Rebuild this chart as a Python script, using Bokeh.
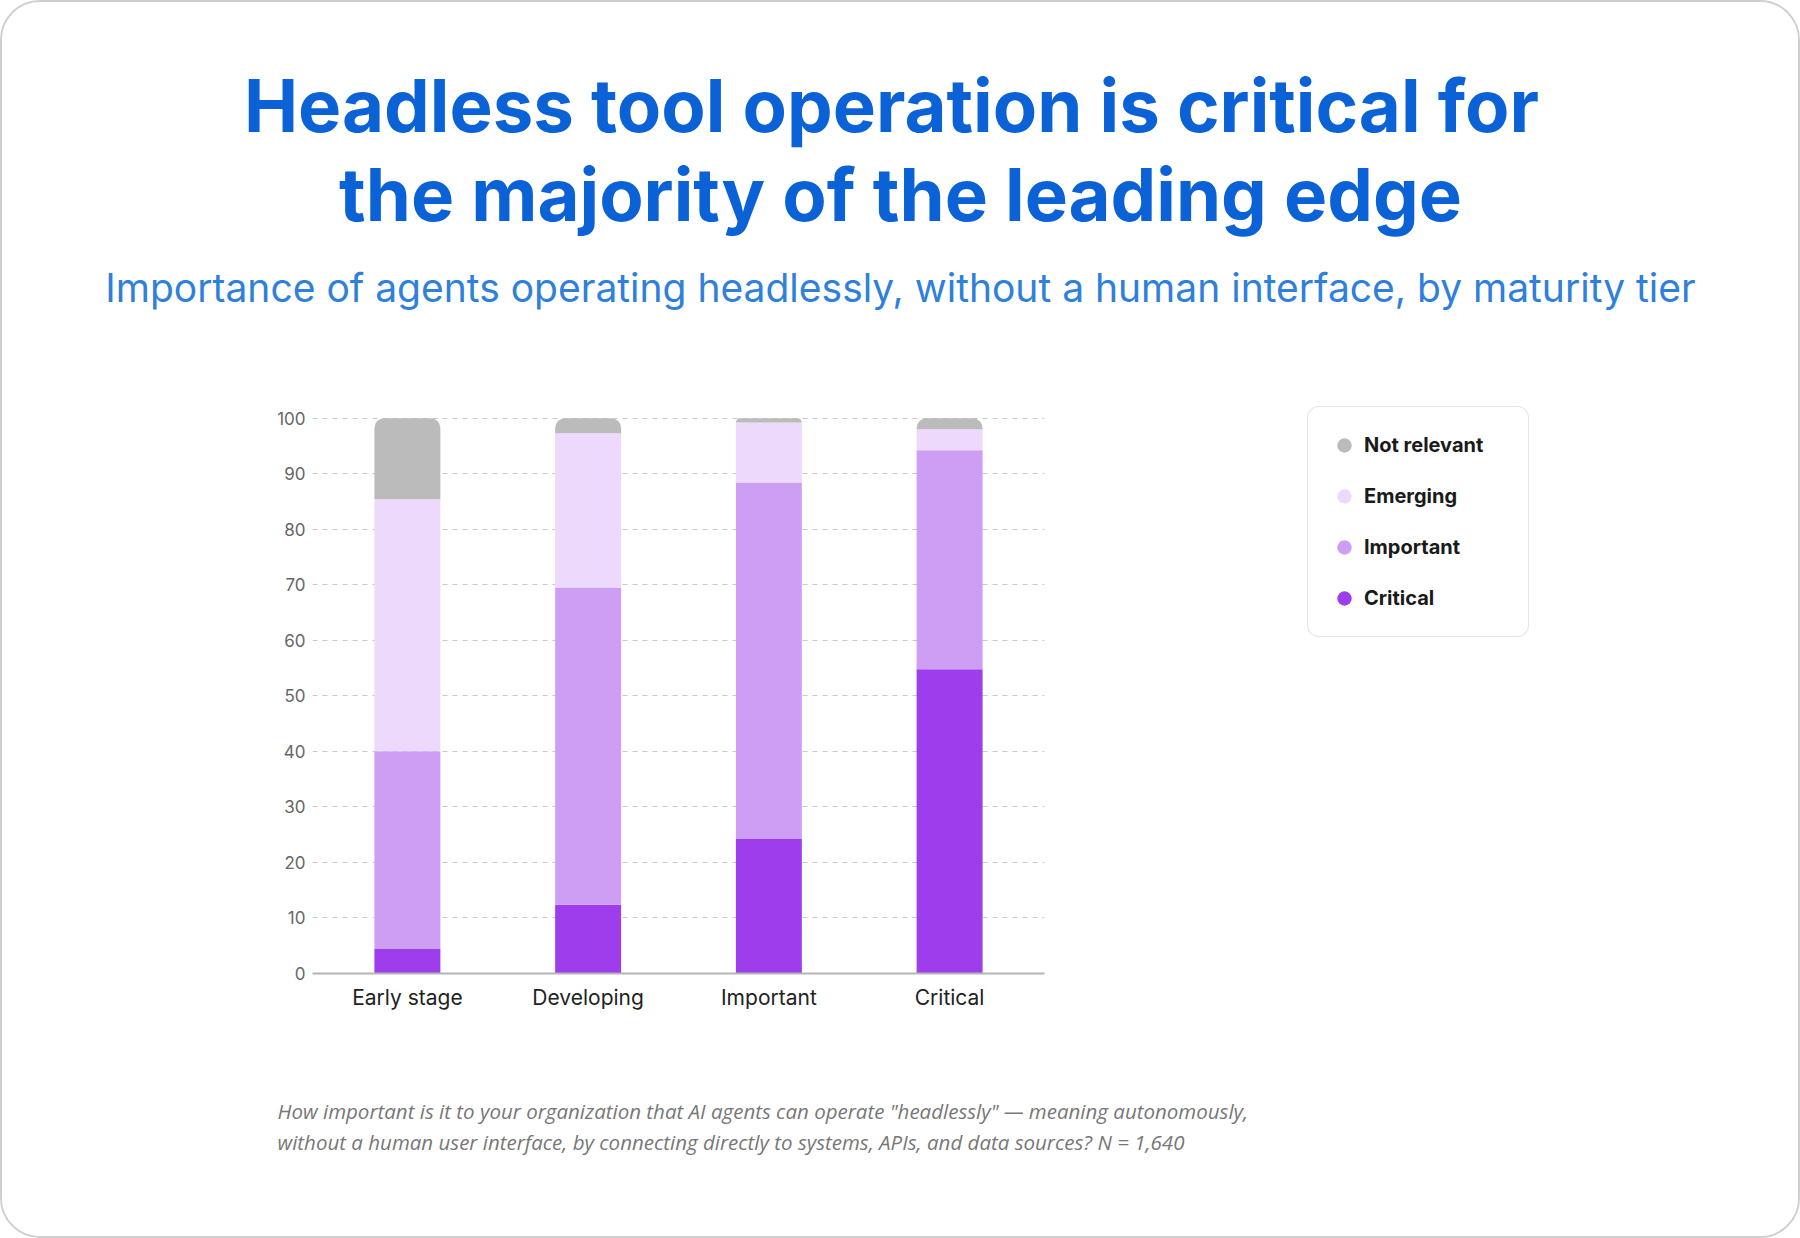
import numpy as np
from bokeh.plotting import figure
from bokeh.layouts import column, row
from bokeh.models import (FactorRange, Range1d, Label, Legend, LegendItem,
                          FixedTicker)
from bokeh.models.glyphs import VBar
from bokeh.embed import file_html
from bokeh.resources import INLINE

# ---- data -------------------------------------------------------------
tiers = ["Early stage", "Developing", "Important", "Critical"]
critical = [4.5, 12.4, 24.2, 54.8]
important = [35.5, 57.1, 64.2, 39.4]
emerging = [45.4, 27.8, 10.8, 3.8]
not_relevant = [14.6, 2.7, 0.8, 2.0]

series_names = ["Critical", "Important", "Emerging", "Not relevant"]
series_colors = ["#9d3deb", "#cd9ef3", "#ecd9fc", "#bbbbbb"]
y_ticks = list(range(0, 101, 10))

title_lines = ["Headless tool operation is critical for",
               "the majority of the leading edge"]
subtitle = ("Importance of agents operating headlessly, without a human "
            "interface, by maturity tier")
note_lines = [
    "How important is it to your organization that AI agents can operate "
    "\"headlessly\" \u2014 meaning autonomously,",
    "without a human user interface, by connecting directly to systems, "
    "APIs, and data sources? N = 1,640",
]

FONT = "Inter"
EDGE = 2                      # card border width
W = 1800 - 2 * EDGE
HEAD_H, MID_H = 338, 720
FOOT_H = 1238 - 2 * EDGE - HEAD_H - MID_H
CHART_W = 1098
FRAME_TOP, FRAME_BOTTOM = 66, 87


def blank(width, height, y_top_down=True, **kw):
    """A figure whose frame fills it, with pixel-like ranges."""
    f = figure(width=width, height=height, title=None,
               x_range=Range1d(0, width),
               y_range=Range1d(height, 0) if y_top_down else Range1d(0, height),
               x_axis_type=None, y_axis_type=None,
               output_backend="svg", toolbar_location=None, **kw)
    f.outline_line_color = None
    f.background_fill_color = "white"
    f.border_fill_color = "white"
    return f


# ---- header -----------------------------------------------------------
head = blank(W, HEAD_H, min_border=0)
for text, x, y in zip(title_lines, [889, 898], [103, 192]):
    head.add_layout(Label(x=x, y=y, text=text, text_font=FONT,
                          text_font_size="72.5px", text_font_style="bold",
                          text_color="#0a62d6", text_align="center",
                          text_baseline="alphabetic"))
head.add_layout(Label(x=898, y=285, text=subtitle, text_font=FONT,
                      text_font_size="39px", text_color="#2f7fdc",
                      text_align="center", text_baseline="alphabetic"))

# ---- chart ------------------------------------------------------------
p = figure(
    width=CHART_W, height=MID_H, title=None,
    x_range=FactorRange(*tiers, range_padding=0.025,
                        range_padding_units="absolute"),
    y_range=Range1d(0, 102.1),
    output_backend="svg", toolbar_location=None,
    min_border_left=310, min_border_right=56,
    min_border_top=FRAME_TOP, min_border_bottom=FRAME_BOTTOM,
)
p.background_fill_color = "white"
p.border_fill_color = "white"
p.outline_line_color = None

vals = np.array([critical, important, emerging, not_relevant], dtype=float)
tops = vals.cumsum(axis=0)
bottoms = tops - vals
has_radius = "border_radius" in VBar.properties()
for i, col in enumerate(series_colors):
    kw = {}
    if has_radius and i == len(series_colors) - 1:
        kw["border_radius"] = (10, 10, 0, 0)
    p.vbar(x=tiers, bottom=list(bottoms[i]), top=list(tops[i]), width=0.365,
           fill_color=col, line_color=None, **kw)

p.xgrid.visible = False
p.ygrid.ticker = FixedTicker(ticks=y_ticks)
p.ygrid.grid_line_color = "#c8c8c8"
p.ygrid.grid_line_dash = "5 5"
p.ygrid.grid_line_width = 1

p.yaxis.ticker = FixedTicker(ticks=y_ticks)
p.yaxis.axis_line_color = None
p.yaxis.major_tick_line_color = None
p.yaxis.minor_tick_line_color = None
p.yaxis.major_label_text_font = FONT
p.yaxis.major_label_text_font_size = "17px"
p.yaxis.major_label_text_color = "#666666"
p.yaxis.major_label_standoff = 1

p.xaxis.axis_line_color = "#b5b5b5"
p.xaxis.axis_line_width = 2
p.xaxis.major_tick_line_color = None
p.xaxis.minor_tick_line_color = None
p.xaxis.major_label_text_font = FONT
p.xaxis.major_label_text_font_size = "21px"
p.xaxis.major_label_text_color = "#222222"
p.xaxis.major_label_standoff = 5

# ---- legend -----------------------------------------------------------
leg = blank(W - CHART_W, MID_H, y_top_down=False, min_border_left=0,
            min_border_right=0, min_border_top=FRAME_TOP,
            min_border_bottom=FRAME_BOTTOM)
items = []
for name, col in reversed(list(zip(series_names, series_colors))):
    r = leg.scatter(x=[np.nan], y=[np.nan], marker="circle", size=16,
                    fill_color=col, line_color=None)
    items.append(LegendItem(label=name, renderers=[r]))
legend = Legend(items=items, location=(207, 336),
                glyph_width=36, glyph_height=40, label_height=20,
                label_width=146, spacing=11, padding=18, label_standoff=2,
                margin=0, label_text_font=FONT, label_text_font_size="20px",
                label_text_font_style="bold", label_text_color="#1a1a1a",
                border_line_color="#cccccc", border_line_width=1.5,
                background_fill_color="white", background_fill_alpha=1.0)
if "border_radius" in Legend.properties():
    legend.border_radius = 12
leg.add_layout(legend)

# ---- footnote ---------------------------------------------------------
foot = blank(W, FOOT_H, min_border=0)
for text, y in zip(note_lines, [50.5, 81]):
    foot.add_layout(Label(x=275, y=y, text=text, text_font="Open Sans",
                          text_font_size="20.5px", text_font_style="italic",
                          text_color="#777777", text_align="left",
                          text_baseline="middle"))

page = column(head, row(p, leg), foot)
page.styles = {"border": f"{EDGE}px solid #cfcfcf", "border-radius": "40px",
               "overflow": "hidden", "background-color": "white"}

open("out.html", "w").write(file_html(page, INLINE))
